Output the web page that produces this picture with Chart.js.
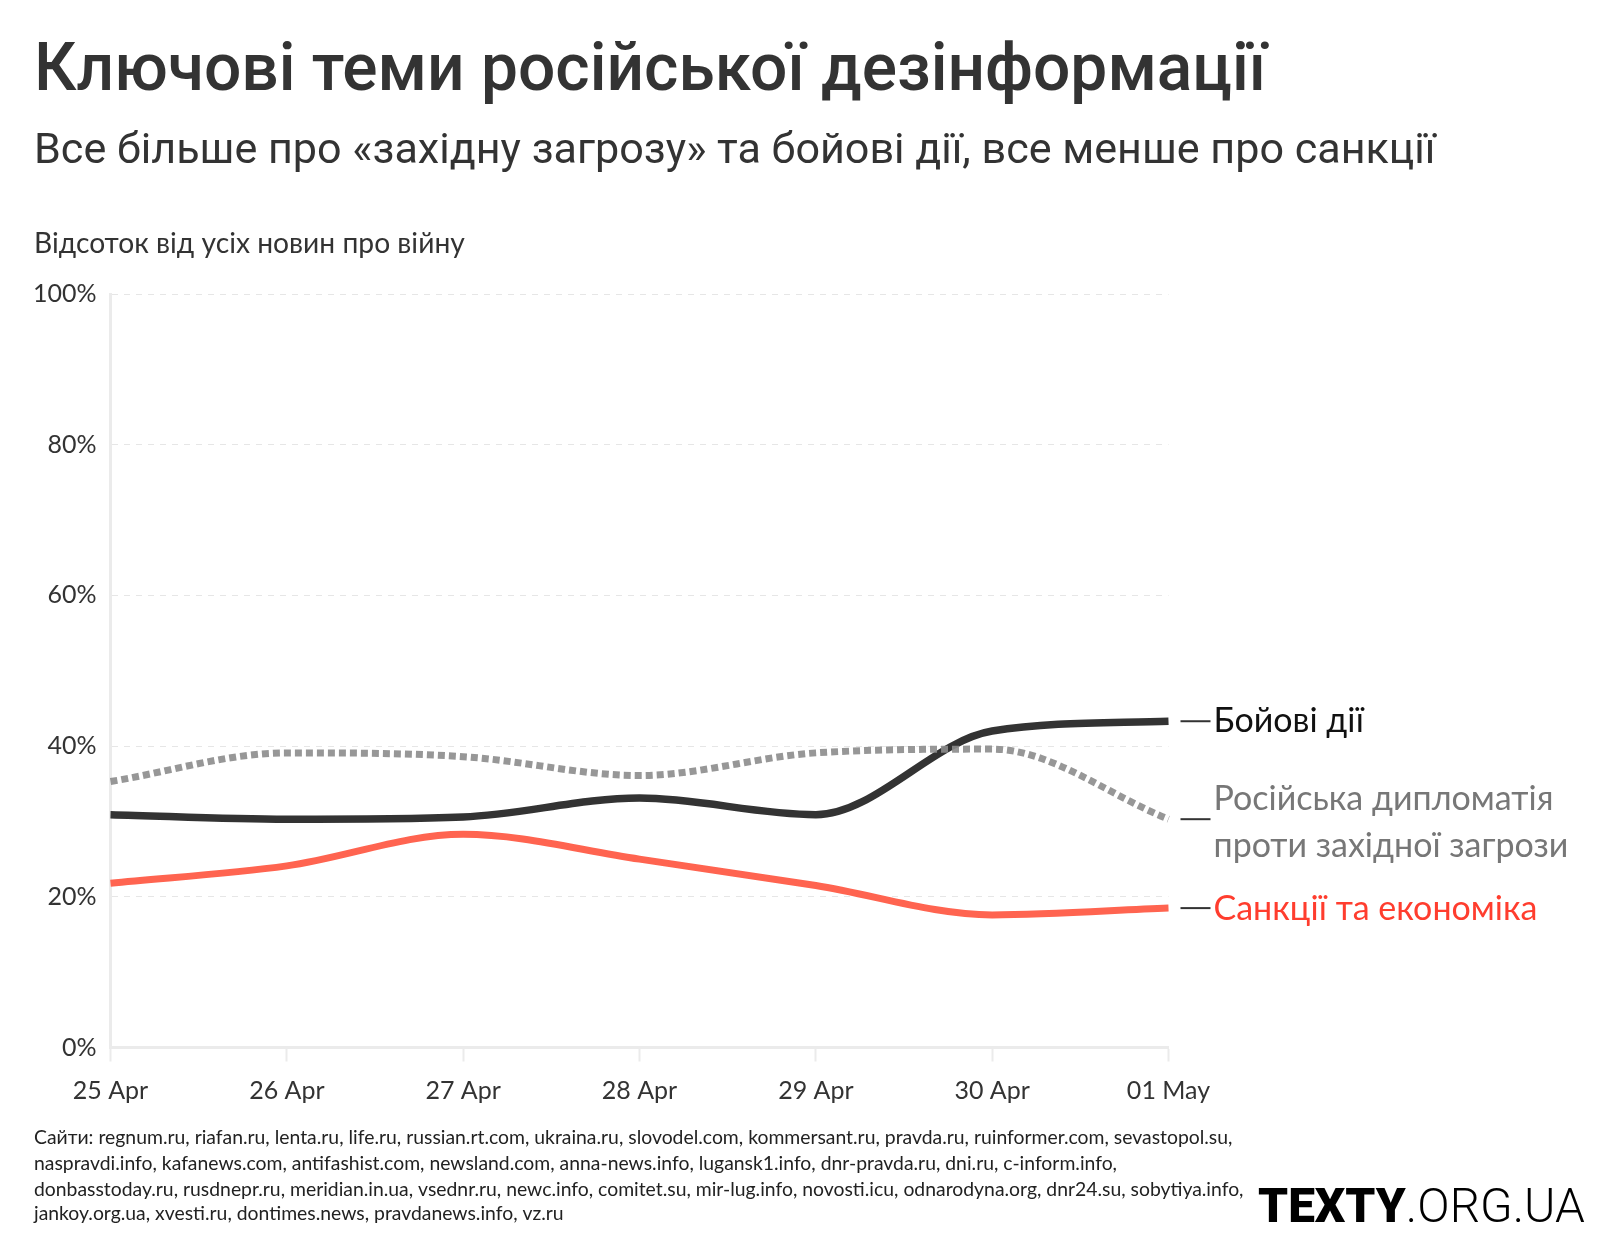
<!DOCTYPE html>
<html>
<head>
<meta charset="utf-8">
<script src="https://cdn.jsdelivr.net/npm/chart.js@4/dist/chart.umd.min.js"></script>
<style>
  html, body { margin: 0; padding: 0; background: #fff; }
  #wrap { position: relative; width: 1620px; height: 1260px; }
</style>
</head>
<body>
<div id="wrap"><canvas id="c" width="1620" height="1260"></canvas></div>
<script>
// ---- data ----
const categories = ['25 Apr', '26 Apr', '27 Apr', '28 Apr', '29 Apr', '30 Apr', '01 May'];
const combat = [30.9, 30.3, 30.6, 33.1, 30.9, 42.0, 43.3];
const diplomacy = [35.3, 39.1, 38.6, 36.1, 39.1, 39.6, 30.3];
const sanctions = [21.8, 24.1, 28.3, 25.0, 21.5, 17.6, 18.5];
const yTicks = [0, 20, 40, 60, 80, 100];

const titleText = 'Ключові теми російської дезінформації';
const subtitleText = 'Все більше про «західну загрозу» та бойові дії, все менше про санкції';
const axisTitleText = 'Відсоток від усіх новин про війну';
const seriesLabels = {
  combat: ['Бойові дії'],
  diplomacy: ['Російська дипломатія', 'проти західної загрози'],
  sanctions: ['Санкції та економіка']
};
const footerLines = [
  'Сайти: regnum.ru, riafan.ru, lenta.ru, life.ru, russian.rt.com, ukraina.ru, slovodel.com, kommersant.ru, pravda.ru, ruinformer.com, sevastopol.su,',
  'naspravdi.info, kafanews.com, antifashist.com, newsland.com, anna-news.info, lugansk1.info, dnr-pravda.ru, dni.ru, c-inform.info,',
  'donbasstoday.ru, rusdnepr.ru, meridian.in.ua, vsednr.ru, newc.info, comitet.su, mir-lug.info, novosti.icu, odnarodyna.org, dnr24.su, sobytiya.info,',
  'jankoy.org.ua, xvesti.ru, dontimes.news, pravdanews.info, vz.ru'
];
const logoBold = 'TEXTY';
const logoLight = '.ORG.UA';

// ---- helpers ----
function fitSize(ctx, text, weight, family, target) {
  ctx.font = weight + ' 100px ' + family;
  return 100 * target / ctx.measureText(text).width;
}

const textPlugin = {
  id: 'texts',
  afterDraw(chart) {
    const ctx = chart.ctx;
    ctx.save();
    ctx.textAlign = 'left';
    ctx.textBaseline = 'alphabetic';
    // title
    let s = fitSize(ctx, titleText, 500, 'Roboto', 1232);
    ctx.font = '500 ' + s + 'px Roboto';
    ctx.fillStyle = '#333333';
    ctx.fillText(titleText, 34, 90);
    // subtitle
    s = fitSize(ctx, subtitleText, 400, 'Roboto', 1402);
    ctx.font = '400 ' + s + 'px Roboto';
    ctx.fillStyle = '#333333';
    ctx.fillText(subtitleText, 34, 163);
    // axis title
    s = fitSize(ctx, axisTitleText, 400, 'Lato', 431);
    ctx.font = '400 ' + s + 'px Lato';
    ctx.fillStyle = '#333333';
    ctx.fillText(axisTitleText, 34, 253);
    // footer
    s = fitSize(ctx, footerLines[0], 400, 'Lato', 1199);
    ctx.font = '400 ' + s + 'px Lato';
    ctx.fillStyle = '#222222';
    const fb = [1144, 1170, 1196, 1220];
    footerLines.forEach((l, i) => ctx.fillText(l, 34, fb[i]));
    // logo
    ctx.font = '900 100px Roboto';
    const wb = ctx.measureText(logoBold).width;
    ctx.font = '300 100px Roboto';
    const wl = ctx.measureText(logoLight).width;
    const ls = 100 * 327 / (wb + wl);
    ctx.fillStyle = '#000000';
    ctx.font = '900 ' + ls + 'px Roboto';
    ctx.fillText(logoBold, 1258, 1222);
    const wb2 = ctx.measureText(logoBold).width;
    ctx.font = '300 ' + ls + 'px Roboto';
    ctx.fillText(logoLight, 1258 + wb2, 1222);

    // series end labels
    const xs = chart.scales.x, ys = chart.scales.y;
    const last = categories.length - 1;
    const xEnd = xs.getPixelForValue(last);
    const defs = [
      { data: combat, lines: seriesLabels.combat, color: '#111111', offs: [0] },
      { data: diplomacy, lines: seriesLabels.diplomacy, color: '#777777', offs: [-20, 27] },
      { data: sanctions, lines: seriesLabels.sanctions, color: '#ff3d2e', offs: [1] }
    ];
    ctx.font = '400 34px Lato';
    ctx.textBaseline = 'middle';
    defs.forEach(d => {
      const y = ys.getPixelForValue(d.data[last]);
      ctx.strokeStyle = '#333333';
      ctx.lineWidth = 2;
      ctx.beginPath();
      ctx.moveTo(xEnd + 12, y);
      ctx.lineTo(xEnd + 42, y);
      ctx.stroke();
      ctx.fillStyle = d.color;
      d.lines.forEach((t, i) => ctx.fillText(t, xEnd + 45, y + d.offs[i]));
    });
    ctx.restore();
  }
};

const ctx = document.getElementById('c').getContext('2d');
new Chart(ctx, {
  type: 'line',
  data: {
    labels: categories,
    datasets: [
      { label: 'Санкції та економіка', data: sanctions, borderColor: '#ff6450', borderWidth: 7, order: 2 },
      { label: 'Бойові дії', data: combat, borderColor: '#333333', borderWidth: 7.5, order: 1 },
      { label: 'Російська дипломатія проти західної загрози', data: diplomacy, borderColor: 'rgba(140,140,140,0.9)', borderWidth: 7, borderDash: [7, 4], order: 0 }
    ]
  },
  options: {
    responsive: false,
    animation: false,
    devicePixelRatio: 1,
    layout: { padding: { left: 0, right: 451.5, top: 294, bottom: 132.5 } },
    elements: {
      point: { radius: 0, hoverRadius: 0 },
      line: { cubicInterpolationMode: 'monotone', borderCapStyle: 'butt', fill: false }
    },
    plugins: { legend: { display: false }, tooltip: { enabled: false }, title: { display: false } },
    scales: {
      x: {
        type: 'category',
        offset: false,
        afterFit(scale) { scale.height = 80; },
        grid: { drawOnChartArea: false, drawTicks: true, tickLength: 14, tickColor: '#ebebeb', tickWidth: 2 },
        border: { display: true, color: '#ebebeb', width: 3 },
        ticks: { color: '#333333', font: { family: 'Lato', size: 25 }, padding: 14, maxRotation: 0, autoSkip: false }
      },
      y: {
        min: 0, max: 100,
        afterFit(scale) { scale.width = 110.5; },
        afterBuildTicks(scale) { scale.ticks = yTicks.map(v => ({ value: v })); },
        grid: { color: '#e6e6e6', lineWidth: 1, drawTicks: false },
        border: { display: true, color: '#ebebeb', width: 3, dash: [6, 6] },
        ticks: { color: '#333333', font: { family: 'Lato', size: 25 }, padding: 14, callback: v => v + '%' }
      }
    }
  },
  plugins: [textPlugin]
});
</script>
</body>
</html>
